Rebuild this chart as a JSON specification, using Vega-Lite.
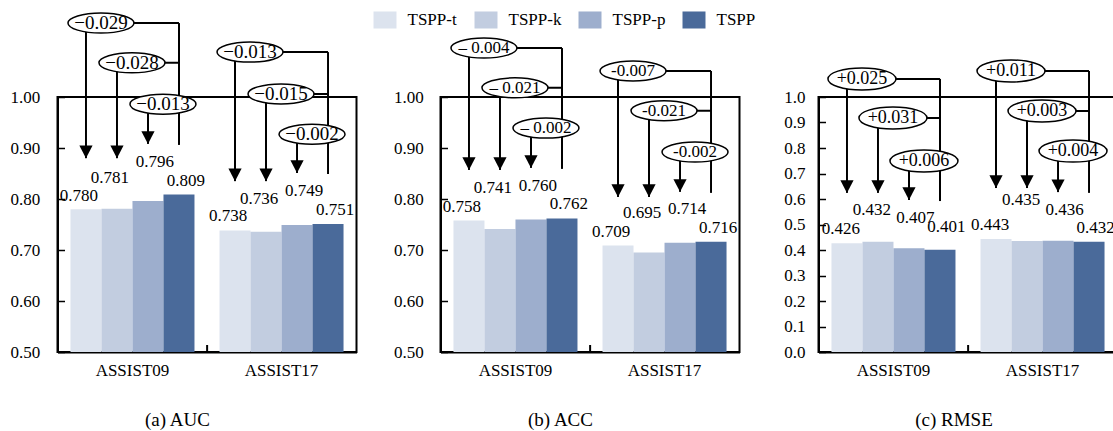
{
  "$schema": "https://vega.github.io/schema/vega-lite/v6.json",
  "padding": {"left": 8.5, "top": 8, "right": 0, "bottom": 0},
  "background": "white",
  "config": {
    "font": "Liberation Serif",
    "view": {"stroke": "black", "strokeWidth": 2},
    "axis": {"labelFont": "Liberation Serif", "labelFontSize": 17, "labelColor": "black", "domainColor": "black", "domainWidth": 2, "tickColor": "black", "tickWidth": 1.5, "grid": false, "labelOverlap": false},
    "legend": {"labelFont": "Liberation Serif", "labelFontSize": 17, "labelColor": "black"},
    "text": {"font": "Liberation Serif", "color": "black"},
    "title": {"font": "Liberation Serif", "fontSize": 19, "fontWeight": "normal", "color": "black"}
  },
  "datasets": {
    "auc": [
      {"dataset": "ASSIST09", "model": "TSPP-t", "value": 0.780, "label_y": 0.806},
      {"dataset": "ASSIST09", "model": "TSPP-k", "value": 0.781, "label_y": 0.842},
      {"dataset": "ASSIST09", "model": "TSPP-p", "value": 0.796, "label_y": 0.872},
      {"dataset": "ASSIST09", "model": "TSPP", "value": 0.809, "label_y": 0.835},
      {"dataset": "ASSIST17", "model": "TSPP-t", "value": 0.738, "label_y": 0.767},
      {"dataset": "ASSIST17", "model": "TSPP-k", "value": 0.736, "label_y": 0.800},
      {"dataset": "ASSIST17", "model": "TSPP-p", "value": 0.749, "label_y": 0.816},
      {"dataset": "ASSIST17", "model": "TSPP", "value": 0.751, "label_y": 0.778}
    ],
    "auc_ann": [
      {"dataset": "ASSIST09", "model": "TSPP-t", "end": "TSPP", "ey": 1.145, "tip": 0.880, "label": "−0.029"},
      {"dataset": "ASSIST09", "model": "TSPP-k", "end": "TSPP", "ey": 1.067, "tip": 0.880, "label": "−0.028"},
      {"dataset": "ASSIST09", "model": "TSPP-p", "end": "TSPP", "ey": 0.986, "tip": 0.908, "label": "−0.013"},
      {"dataset": "ASSIST17", "model": "TSPP-t", "end": "TSPP", "ey": 1.088, "tip": 0.835, "label": "−0.013"},
      {"dataset": "ASSIST17", "model": "TSPP-k", "end": "TSPP", "ey": 1.006, "tip": 0.835, "label": "−0.015"},
      {"dataset": "ASSIST17", "model": "TSPP-p", "end": "TSPP", "ey": 0.927, "tip": 0.851, "label": "−0.002"}
    ],
    "auc_br": [
      {"dataset": "ASSIST09", "model": "TSPP", "top": 1.145, "bottom": 0.906},
      {"dataset": "ASSIST17", "model": "TSPP", "top": 1.088, "bottom": 0.849}
    ],
    "acc": [
      {"dataset": "ASSIST09", "model": "TSPP-t", "value": 0.758, "label_y": 0.784},
      {"dataset": "ASSIST09", "model": "TSPP-k", "value": 0.741, "label_y": 0.822},
      {"dataset": "ASSIST09", "model": "TSPP-p", "value": 0.760, "label_y": 0.825},
      {"dataset": "ASSIST09", "model": "TSPP", "value": 0.762, "label_y": 0.790},
      {"dataset": "ASSIST17", "model": "TSPP-t", "value": 0.709, "label_y": 0.735},
      {"dataset": "ASSIST17", "model": "TSPP-k", "value": 0.695, "label_y": 0.773},
      {"dataset": "ASSIST17", "model": "TSPP-p", "value": 0.714, "label_y": 0.780},
      {"dataset": "ASSIST17", "model": "TSPP", "value": 0.716, "label_y": 0.743}
    ],
    "acc_ann": [
      {"dataset": "ASSIST09", "model": "TSPP-t", "end": "TSPP", "ey": 1.096, "tip": 0.857, "label": "– 0.004"},
      {"dataset": "ASSIST09", "model": "TSPP-k", "end": "TSPP", "ey": 1.018, "tip": 0.857, "label": "– 0.021"},
      {"dataset": "ASSIST09", "model": "TSPP-p", "end": "TSPP", "ey": 0.939, "tip": 0.861, "label": "– 0.002"},
      {"dataset": "ASSIST17", "model": "TSPP-t", "end": "TSPP", "ey": 1.051, "tip": 0.804, "label": "-0.007"},
      {"dataset": "ASSIST17", "model": "TSPP-k", "end": "TSPP", "ey": 0.973, "tip": 0.804, "label": "-0.021"},
      {"dataset": "ASSIST17", "model": "TSPP-p", "end": "TSPP", "ey": 0.892, "tip": 0.814, "label": "-0.002"}
    ],
    "acc_br": [
      {"dataset": "ASSIST09", "model": "TSPP", "top": 1.096, "bottom": 0.859},
      {"dataset": "ASSIST17", "model": "TSPP", "top": 1.051, "bottom": 0.812}
    ],
    "rmse": [
      {"dataset": "ASSIST09", "model": "TSPP-t", "value": 0.426, "label_y": 0.482},
      {"dataset": "ASSIST09", "model": "TSPP-k", "value": 0.432, "label_y": 0.557},
      {"dataset": "ASSIST09", "model": "TSPP-p", "value": 0.407, "label_y": 0.525},
      {"dataset": "ASSIST09", "model": "TSPP", "value": 0.401, "label_y": 0.490},
      {"dataset": "ASSIST17", "model": "TSPP-t", "value": 0.443, "label_y": 0.498},
      {"dataset": "ASSIST17", "model": "TSPP-k", "value": 0.435, "label_y": 0.596},
      {"dataset": "ASSIST17", "model": "TSPP-p", "value": 0.436, "label_y": 0.557},
      {"dataset": "ASSIST17", "model": "TSPP", "value": 0.432, "label_y": 0.486}
    ],
    "rmse_ann": [
      {"dataset": "ASSIST09", "model": "TSPP-t", "end": "TSPP", "ey": 1.071, "tip": 0.624, "label": "+0.025"},
      {"dataset": "ASSIST09", "model": "TSPP-k", "end": "TSPP", "ey": 0.918, "tip": 0.624, "label": "+0.031"},
      {"dataset": "ASSIST09", "model": "TSPP-p", "end": "TSPP", "ey": 0.749, "tip": 0.596, "label": "+0.006"},
      {"dataset": "ASSIST17", "model": "TSPP-t", "end": "TSPP", "ey": 1.102, "tip": 0.643, "label": "+0.011"},
      {"dataset": "ASSIST17", "model": "TSPP-k", "end": "TSPP", "ey": 0.945, "tip": 0.643, "label": "+0.003"},
      {"dataset": "ASSIST17", "model": "TSPP-p", "end": "TSPP", "ey": 0.788, "tip": 0.627, "label": "+0.004"}
    ],
    "rmse_br": [
      {"dataset": "ASSIST09", "model": "TSPP", "top": 1.071, "bottom": 0.592},
      {"dataset": "ASSIST17", "model": "TSPP", "top": 1.102, "bottom": 0.624}
    ]
  },
  "bounds": "flush",
  "spacing": 84,
  "resolve": {"scale": {"xOffset": "independent"}},
  "hconcat": [
    {
      "width": 299, "height": 255,
      "title": {"text": "(a)  AUC", "orient": "bottom", "dx": -29.5, "offset": 33},
      "layer": [
        {
          "data": {"name": "auc"},
          "mark": {"type": "bar", "clip": true},
          "encoding": {
            "x": {"field": "dataset", "type": "nominal", "title": null, "scale": {"domain": ["ASSIST09", "ASSIST17"], "paddingInner": 0.168, "paddingOuter": 0.087}, "axis": {"labelAngle": 0, "ticks": false, "labelPadding": 10}},
            "xOffset": {"field": "model", "type": "nominal", "scale": {"domain": ["TSPP-t", "TSPP-k", "TSPP-p", "TSPP"], "paddingInner": 0, "paddingOuter": 0}},
            "y": {"field": "value", "type": "quantitative", "title": null, "scale": {"domain": [0.5, 1], "nice": false, "zero": false}, "axis": {"values": [0.5, 0.6, 0.7, 0.8, 0.9, 1.0], "tickCount": 12, "format": ".2f", "tickSize": -7, "labelPadding": 24.7}},
            "y2": {"datum": 0.5},
            "color": {"field": "model", "type": "nominal", "scale": {"domain": ["TSPP-t", "TSPP-k", "TSPP-p", "TSPP"], "range": ["#dce3ee", "#c2cde0", "#9daecd", "#4a6a9a"]}, "legend": {"orient": "none", "legendX": 316, "legendY": -89, "direction": "horizontal", "title": null, "symbolType": "M-1,-0.74L1,-0.74L1,0.74L-1,0.74Z", "symbolSize": 529, "symbolStrokeWidth": 0, "symbolOpacity": 1, "labelOffset": 11, "columnPadding": 17}}
          }
        },
        {
          "data": {"name": "auc"},
          "transform": [{"filter": "datum.model == 'TSPP-t' || datum.model == 'TSPP-k'"}],
          "mark": {"type": "text", "dx": -7, "fontSize": 17},
          "encoding": {
            "x": {"field": "dataset", "type": "nominal", "title": null},
            "xOffset": {"field": "model", "type": "nominal"},
            "y": {"field": "label_y", "type": "quantitative", "title": null, "scale": {"domain": [0.5, 1], "nice": false, "zero": false}},
            "text": {"field": "value", "type": "quantitative", "format": ".3f"}
          }
        },
        {
          "data": {"name": "auc"},
          "transform": [{"filter": "datum.model == 'TSPP-p' || datum.model == 'TSPP'"}],
          "mark": {"type": "text", "dx": 7, "fontSize": 17},
          "encoding": {
            "x": {"field": "dataset", "type": "nominal", "title": null},
            "xOffset": {"field": "model", "type": "nominal"},
            "y": {"field": "label_y", "type": "quantitative", "title": null, "scale": {"domain": [0.5, 1], "nice": false, "zero": false}},
            "text": {"field": "value", "type": "quantitative", "format": ".3f"}
          }
        },
        {
          "data": {"name": "auc_br"},
          "mark": {"type": "rule", "strokeWidth": 2, "color": "black"},
          "encoding": {
            "x": {"field": "dataset", "type": "nominal", "title": null},
            "xOffset": {"field": "model", "type": "nominal"},
            "y": {"field": "top", "type": "quantitative", "title": null, "scale": {"domain": [0.5, 1], "nice": false, "zero": false}},
            "y2": {"field": "bottom"}
          }
        },
        {
          "data": {"name": "auc_ann"},
          "transform": [{"fold": ["model", "end"], "as": ["which", "m"]}],
          "mark": {"type": "line", "strokeWidth": 2, "color": "black"},
          "encoding": {
            "x": {"field": "dataset", "type": "nominal", "title": null},
            "xOffset": {"field": "m", "type": "nominal"},
            "y": {"field": "ey", "type": "quantitative", "title": null, "scale": {"domain": [0.5, 1], "nice": false, "zero": false}},
            "detail": [{"field": "dataset"}, {"field": "label"}]
          }
        },
        {
          "data": {"name": "auc_ann"},
          "mark": {"type": "rule", "strokeWidth": 2, "color": "black"},
          "encoding": {
            "x": {"field": "dataset", "type": "nominal", "title": null},
            "xOffset": {"field": "model", "type": "nominal"},
            "y": {"field": "ey", "type": "quantitative", "title": null, "scale": {"domain": [0.5, 1], "nice": false, "zero": false}},
            "y2": {"field": "tip"}
          }
        },
        {
          "data": {"name": "auc_ann"},
          "mark": {"type": "point", "shape": "M-0.52,-1L0.52,-1L0,0Z", "size": 645, "filled": true, "color": "black", "opacity": 1, "strokeWidth": 0},
          "encoding": {
            "x": {"field": "dataset", "type": "nominal", "title": null},
            "xOffset": {"field": "model", "type": "nominal"},
            "y": {"field": "tip", "type": "quantitative", "title": null, "scale": {"domain": [0.5, 1], "nice": false, "zero": false}}
          }
        },
        {
          "data": {"name": "auc_ann"},
          "mark": {"type": "point", "shape": "M-0.5455,0C-0.5455,-0.1673 -0.0978,-0.303 0.4545,-0.303C1.0068,-0.303 1.4545,-0.1673 1.4545,0C1.4545,0.1673 1.0068,0.303 0.4545,0.303C-0.0978,0.303 -0.5455,0.1673 -0.5455,0Z", "size": 4356, "fill": "white", "stroke": "black", "strokeWidth": 1.5, "opacity": 1, "fillOpacity": 1},
          "encoding": {
            "x": {"field": "dataset", "type": "nominal", "title": null},
            "xOffset": {"field": "model", "type": "nominal"},
            "y": {"field": "ey", "type": "quantitative", "title": null, "scale": {"domain": [0.5, 1], "nice": false, "zero": false}}
          }
        },
        {
          "data": {"name": "auc_ann"},
          "mark": {"type": "text", "dx": 15, "fontSize": 19},
          "encoding": {
            "x": {"field": "dataset", "type": "nominal", "title": null},
            "xOffset": {"field": "model", "type": "nominal"},
            "y": {"field": "ey", "type": "quantitative", "title": null, "scale": {"domain": [0.5, 1], "nice": false, "zero": false}},
            "text": {"field": "label", "type": "nominal"}
          }
        },
        {
          "data": {"values": [{"dataset": "ASSIST17"}]},
          "mark": {"type": "rule", "strokeWidth": 2, "color": "black", "y2Offset": -7},
          "encoding": {
            "x": {"field": "dataset", "type": "nominal", "title": null, "bandPosition": -0.1},
            "y": {"datum": 0.5, "type": "quantitative", "scale": {"domain": [0.5, 1], "nice": false, "zero": false}},
            "y2": {"datum": 0.5}
          }
        }
      ]
    },
    {
      "bounds": "flush",
      "spacing": 79,
      "resolve": {"scale": {"xOffset": "independent"}},
      "hconcat": [
        {
          "width": 299, "height": 255,
          "title": {"text": "(b)  ACC", "orient": "bottom", "dx": -29.5, "offset": 33},
          "layer": [
            {
              "data": {"name": "acc"},
              "mark": {"type": "bar", "clip": true},
              "encoding": {
                "x": {"field": "dataset", "type": "nominal", "title": null, "scale": {"domain": ["ASSIST09", "ASSIST17"], "paddingInner": 0.168, "paddingOuter": 0.087}, "axis": {"labelAngle": 0, "ticks": false, "labelPadding": 10}},
                "xOffset": {"field": "model", "type": "nominal", "scale": {"domain": ["TSPP-t", "TSPP-k", "TSPP-p", "TSPP"], "paddingInner": 0, "paddingOuter": 0}},
                "y": {"field": "value", "type": "quantitative", "title": null, "scale": {"domain": [0.5, 1], "nice": false, "zero": false}, "axis": {"values": [0.5, 0.6, 0.7, 0.8, 0.9, 1.0], "tickCount": 12, "format": ".2f", "tickSize": -7, "labelPadding": 24.3}},
                "y2": {"datum": 0.5},
                "color": {"field": "model", "type": "nominal", "scale": {"domain": ["TSPP-t", "TSPP-k", "TSPP-p", "TSPP"], "range": ["#dce3ee", "#c2cde0", "#9daecd", "#4a6a9a"]}, "legend": {"orient": "none", "legendX": 316, "legendY": -89, "direction": "horizontal", "title": null, "symbolType": "M-1,-0.74L1,-0.74L1,0.74L-1,0.74Z", "symbolSize": 529, "symbolStrokeWidth": 0, "symbolOpacity": 1, "labelOffset": 11, "columnPadding": 17}}
              }
            },
            {
              "data": {"name": "acc"},
              "transform": [{"filter": "datum.model == 'TSPP-t' || datum.model == 'TSPP-k'"}],
              "mark": {"type": "text", "dx": -7, "fontSize": 17},
              "encoding": {
                "x": {"field": "dataset", "type": "nominal", "title": null},
                "xOffset": {"field": "model", "type": "nominal"},
                "y": {"field": "label_y", "type": "quantitative", "title": null, "scale": {"domain": [0.5, 1], "nice": false, "zero": false}},
                "text": {"field": "value", "type": "quantitative", "format": ".3f"}
              }
            },
            {
              "data": {"name": "acc"},
              "transform": [{"filter": "datum.model == 'TSPP-p' || datum.model == 'TSPP'"}],
              "mark": {"type": "text", "dx": 7, "fontSize": 17},
              "encoding": {
                "x": {"field": "dataset", "type": "nominal", "title": null},
                "xOffset": {"field": "model", "type": "nominal"},
                "y": {"field": "label_y", "type": "quantitative", "title": null, "scale": {"domain": [0.5, 1], "nice": false, "zero": false}},
                "text": {"field": "value", "type": "quantitative", "format": ".3f"}
              }
            },
            {
              "data": {"name": "acc_br"},
              "mark": {"type": "rule", "strokeWidth": 2, "color": "black"},
              "encoding": {
                "x": {"field": "dataset", "type": "nominal", "title": null},
                "xOffset": {"field": "model", "type": "nominal"},
                "y": {"field": "top", "type": "quantitative", "title": null, "scale": {"domain": [0.5, 1], "nice": false, "zero": false}},
                "y2": {"field": "bottom"}
              }
            },
            {
              "data": {"name": "acc_ann"},
              "transform": [{"fold": ["model", "end"], "as": ["which", "m"]}],
              "mark": {"type": "line", "strokeWidth": 2, "color": "black"},
              "encoding": {
                "x": {"field": "dataset", "type": "nominal", "title": null},
                "xOffset": {"field": "m", "type": "nominal"},
                "y": {"field": "ey", "type": "quantitative", "title": null, "scale": {"domain": [0.5, 1], "nice": false, "zero": false}},
                "detail": [{"field": "dataset"}, {"field": "label"}]
              }
            },
            {
              "data": {"name": "acc_ann"},
              "mark": {"type": "rule", "strokeWidth": 2, "color": "black"},
              "encoding": {
                "x": {"field": "dataset", "type": "nominal", "title": null},
                "xOffset": {"field": "model", "type": "nominal"},
                "y": {"field": "ey", "type": "quantitative", "title": null, "scale": {"domain": [0.5, 1], "nice": false, "zero": false}},
                "y2": {"field": "tip"}
              }
            },
            {
              "data": {"name": "acc_ann"},
              "mark": {"type": "point", "shape": "M-0.52,-1L0.52,-1L0,0Z", "size": 645, "filled": true, "color": "black", "opacity": 1, "strokeWidth": 0},
              "encoding": {
                "x": {"field": "dataset", "type": "nominal", "title": null},
                "xOffset": {"field": "model", "type": "nominal"},
                "y": {"field": "tip", "type": "quantitative", "title": null, "scale": {"domain": [0.5, 1], "nice": false, "zero": false}}
              }
            },
            {
              "data": {"name": "acc_ann"},
              "mark": {"type": "point", "shape": "M-0.5455,0C-0.5455,-0.1673 -0.0978,-0.303 0.4545,-0.303C1.0068,-0.303 1.4545,-0.1673 1.4545,0C1.4545,0.1673 1.0068,0.303 0.4545,0.303C-0.0978,0.303 -0.5455,0.1673 -0.5455,0Z", "size": 4356, "fill": "white", "stroke": "black", "strokeWidth": 1.5, "opacity": 1, "fillOpacity": 1},
              "encoding": {
                "x": {"field": "dataset", "type": "nominal", "title": null},
                "xOffset": {"field": "model", "type": "nominal"},
                "y": {"field": "ey", "type": "quantitative", "title": null, "scale": {"domain": [0.5, 1], "nice": false, "zero": false}}
              }
            },
            {
              "data": {"name": "acc_ann"},
              "mark": {"type": "text", "dx": 15, "fontSize": 17},
              "encoding": {
                "x": {"field": "dataset", "type": "nominal", "title": null},
                "xOffset": {"field": "model", "type": "nominal"},
                "y": {"field": "ey", "type": "quantitative", "title": null, "scale": {"domain": [0.5, 1], "nice": false, "zero": false}},
                "text": {"field": "label", "type": "nominal"}
              }
            },
            {
              "data": {"values": [{"dataset": "ASSIST17"}]},
              "mark": {"type": "rule", "strokeWidth": 2, "color": "black", "y2Offset": -7},
              "encoding": {
                "x": {"field": "dataset", "type": "nominal", "title": null, "bandPosition": -0.1},
                "y": {"datum": 0.5, "type": "quantitative", "scale": {"domain": [0.5, 1], "nice": false, "zero": false}},
                "y2": {"datum": 0.5}
              }
            }
          ]
        },
        {
          "width": 299, "height": 255,
          "title": {"text": "(c)  RMSE", "orient": "bottom", "dx": -14, "offset": 33},
          "layer": [
            {
              "data": {"name": "rmse"},
              "mark": {"type": "bar", "clip": true},
              "encoding": {
                "x": {"field": "dataset", "type": "nominal", "title": null, "scale": {"domain": ["ASSIST09", "ASSIST17"], "paddingInner": 0.168, "paddingOuter": 0.087}, "axis": {"labelAngle": 0, "ticks": false, "labelPadding": 10}},
                "xOffset": {"field": "model", "type": "nominal", "scale": {"domain": ["TSPP-t", "TSPP-k", "TSPP-p", "TSPP"], "paddingInner": 0, "paddingOuter": 0}},
                "y": {"field": "value", "type": "quantitative", "title": null, "scale": {"domain": [0, 1], "nice": false, "zero": false}, "axis": {"values": [0, 0.1, 0.2, 0.3, 0.4, 0.5, 0.6, 0.7, 0.8, 0.9, 1.0], "tickCount": 12, "format": ".1f", "tickSize": -7, "labelPadding": 20.5, "labelOverlap": false}},
                "y2": {"datum": 0},
                "color": {"field": "model", "type": "nominal", "scale": {"domain": ["TSPP-t", "TSPP-k", "TSPP-p", "TSPP"], "range": ["#dce3ee", "#c2cde0", "#9daecd", "#4a6a9a"]}, "legend": {"orient": "none", "legendX": 316, "legendY": -89, "direction": "horizontal", "title": null, "symbolType": "M-1,-0.74L1,-0.74L1,0.74L-1,0.74Z", "symbolSize": 529, "symbolStrokeWidth": 0, "symbolOpacity": 1, "labelOffset": 11, "columnPadding": 17}}
              }
            },
            {
              "data": {"name": "rmse"},
              "transform": [{"filter": "datum.model == 'TSPP-t' || datum.model == 'TSPP-k'"}],
              "mark": {"type": "text", "dx": -6, "fontSize": 17},
              "encoding": {
                "x": {"field": "dataset", "type": "nominal", "title": null},
                "xOffset": {"field": "model", "type": "nominal"},
                "y": {"field": "label_y", "type": "quantitative", "title": null, "scale": {"domain": [0, 1], "nice": false, "zero": false}},
                "text": {"field": "value", "type": "quantitative", "format": ".3f"}
              }
            },
            {
              "data": {"name": "rmse"},
              "transform": [{"filter": "datum.model == 'TSPP-p' || datum.model == 'TSPP'"}],
              "mark": {"type": "text", "dx": 6.5, "fontSize": 17},
              "encoding": {
                "x": {"field": "dataset", "type": "nominal", "title": null},
                "xOffset": {"field": "model", "type": "nominal"},
                "y": {"field": "label_y", "type": "quantitative", "title": null, "scale": {"domain": [0, 1], "nice": false, "zero": false}},
                "text": {"field": "value", "type": "quantitative", "format": ".3f"}
              }
            },
            {
              "data": {"name": "rmse_br"},
              "mark": {"type": "rule", "strokeWidth": 2, "color": "black"},
              "encoding": {
                "x": {"field": "dataset", "type": "nominal", "title": null},
                "xOffset": {"field": "model", "type": "nominal"},
                "y": {"field": "top", "type": "quantitative", "title": null, "scale": {"domain": [0, 1], "nice": false, "zero": false}},
                "y2": {"field": "bottom"}
              }
            },
            {
              "data": {"name": "rmse_ann"},
              "transform": [{"fold": ["model", "end"], "as": ["which", "m"]}],
              "mark": {"type": "line", "strokeWidth": 2, "color": "black"},
              "encoding": {
                "x": {"field": "dataset", "type": "nominal", "title": null},
                "xOffset": {"field": "m", "type": "nominal"},
                "y": {"field": "ey", "type": "quantitative", "title": null, "scale": {"domain": [0, 1], "nice": false, "zero": false}},
                "detail": [{"field": "dataset"}, {"field": "label"}]
              }
            },
            {
              "data": {"name": "rmse_ann"},
              "mark": {"type": "rule", "strokeWidth": 2, "color": "black"},
              "encoding": {
                "x": {"field": "dataset", "type": "nominal", "title": null},
                "xOffset": {"field": "model", "type": "nominal"},
                "y": {"field": "ey", "type": "quantitative", "title": null, "scale": {"domain": [0, 1], "nice": false, "zero": false}},
                "y2": {"field": "tip"}
              }
            },
            {
              "data": {"name": "rmse_ann"},
              "mark": {"type": "point", "shape": "M-0.52,-1L0.52,-1L0,0Z", "size": 645, "filled": true, "color": "black", "opacity": 1, "strokeWidth": 0},
              "encoding": {
                "x": {"field": "dataset", "type": "nominal", "title": null},
                "xOffset": {"field": "model", "type": "nominal"},
                "y": {"field": "tip", "type": "quantitative", "title": null, "scale": {"domain": [0, 1], "nice": false, "zero": false}}
              }
            },
            {
              "data": {"name": "rmse_ann"},
              "mark": {"type": "point", "shape": "M-0.559,0C-0.559,-0.179 -0.1113,-0.324 0.441,-0.324C0.9933,-0.324 1.441,-0.179 1.441,0C1.441,0.179 0.9933,0.324 0.441,0.324C-0.1113,0.324 -0.559,0.179 -0.559,0Z", "size": 4624, "fill": "white", "stroke": "black", "strokeWidth": 1.5, "opacity": 1, "fillOpacity": 1},
              "encoding": {
                "x": {"field": "dataset", "type": "nominal", "title": null},
                "xOffset": {"field": "model", "type": "nominal"},
                "y": {"field": "ey", "type": "quantitative", "title": null, "scale": {"domain": [0, 1], "nice": false, "zero": false}}
              }
            },
            {
              "data": {"name": "rmse_ann"},
              "mark": {"type": "text", "dx": 15, "fontSize": 18},
              "encoding": {
                "x": {"field": "dataset", "type": "nominal", "title": null},
                "xOffset": {"field": "model", "type": "nominal"},
                "y": {"field": "ey", "type": "quantitative", "title": null, "scale": {"domain": [0, 1], "nice": false, "zero": false}},
                "text": {"field": "label", "type": "nominal"}
              }
            },
            {
              "data": {"values": [{"dataset": "ASSIST17"}]},
              "mark": {"type": "rule", "strokeWidth": 2, "color": "black", "y2Offset": -7},
              "encoding": {
                "x": {"field": "dataset", "type": "nominal", "title": null, "bandPosition": -0.1},
                "y": {"datum": 0, "type": "quantitative", "scale": {"domain": [0, 1], "nice": false, "zero": false}},
                "y2": {"datum": 0}
              }
            }
          ]
        }
      ]
    }
  ]
}
